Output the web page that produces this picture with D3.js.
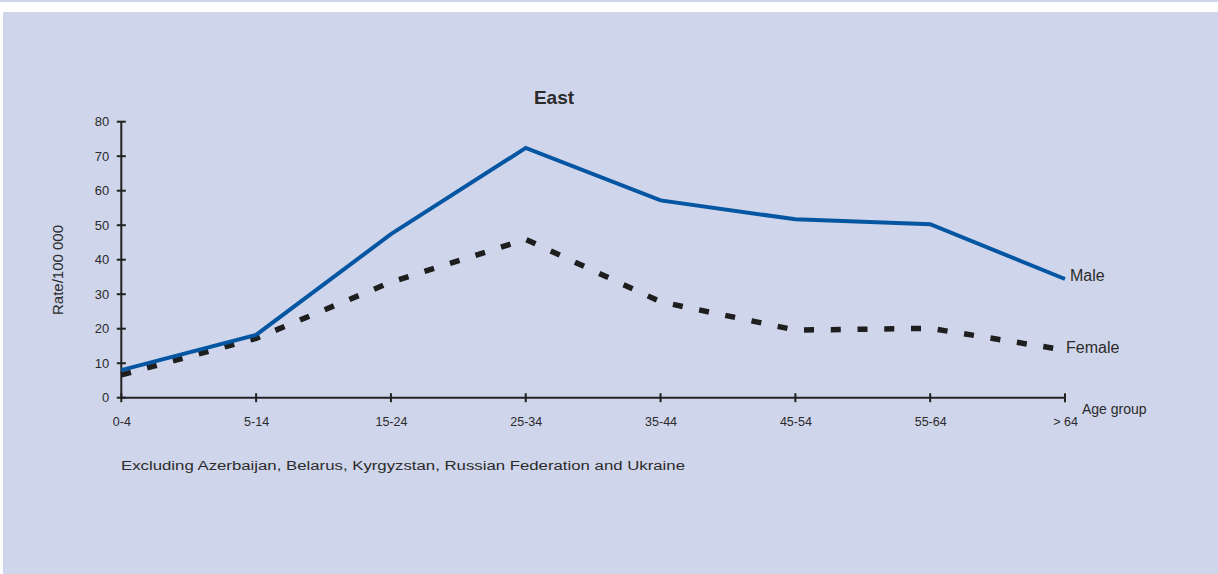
<!DOCTYPE html>
<html><head><meta charset="utf-8">
<script src="https://cdn.jsdelivr.net/npm/d3@7"></script>
<style>
html,body{margin:0;padding:0;background:#fff;}
svg{display:block;}
text{font-family:"Liberation Sans",Arial,sans-serif;fill:#2b2b2b;}
</style></head>
<body>
<svg id="chart" width="1218" height="574"></svg>
<script>
const categories = ["0-4","5-14","15-24","25-34","35-44","45-54","55-64","> 64"];
const maleValues = [8.0, 18.2, 47.4, 72.4, 57.2, 51.7, 50.3, 34.4];
const femaleValues = [6.6, 17.2, 33.5, 45.9, 27.8, 19.6, 20.1, 13.8];
const yTicks = [0,10,20,30,40,50,60,70,80];
const seriesNames = ["Male","Female"];

const svg = d3.select("#chart");
svg.append("rect").attr("x",0).attr("y",0).attr("width",1218).attr("height",2).attr("fill","#cfd5ea");
svg.append("rect").attr("x",3).attr("y",12).attr("width",1215).attr("height",562).attr("fill","#cfd5ea");

const x = d3.scalePoint().domain(categories).range([121.3, 1065]);
const y = d3.scaleLinear().domain([0,80]).range([397.7, 121.7]);

// axes
const yAxis = svg.append("g").attr("transform","translate(121.3,0)")
  .call(d3.axisLeft(y).tickValues(yTicks).tickSize(0).tickPadding(12));
yAxis.select(".domain").remove();
yAxis.selectAll("text").style("font-size","13px").attr("fill","#2b2b2b");
const xAxis = svg.append("g").attr("transform","translate(0,397.7)")
  .call(d3.axisBottom(x).tickSize(0).tickPadding(19));
xAxis.select(".domain").remove();
xAxis.selectAll("text").style("font-size","12.5px").attr("fill","#2b2b2b");

// axis lines
svg.append("line").attr("x1",x(categories[0])).attr("x2",x(categories[categories.length-1]))
  .attr("y1",y(0)).attr("y2",y(0)).attr("stroke","#222").attr("stroke-width",2);
svg.append("line").attr("x1",x(categories[0])).attr("x2",x(categories[0]))
  .attr("y1",y(0)).attr("y2",y(80)).attr("stroke","#222").attr("stroke-width",2);
svg.selectAll(".yt").data(yTicks).enter().append("line")
  .attr("x1",121.3-4.5).attr("x2",121.3+4.5).attr("y1",d=>y(d)).attr("y2",d=>y(d))
  .attr("stroke","#222").attr("stroke-width",2);
svg.selectAll(".xt").data(categories).enter().append("line")
  .attr("x1",d=>x(d)).attr("x2",d=>x(d)).attr("y1",y(0)-4.5).attr("y2",y(0)+4.5)
  .attr("stroke","#222").attr("stroke-width",2);

const line = d3.line().x((d,i)=>x(categories[i])).y(d=>y(d));
const fPath = svg.append("path").datum(femaleValues).attr("d",line).attr("fill","none")
  .attr("stroke","#1e1e1e").attr("stroke-width",5.5);
const L = fPath.node().getTotalLength();
const n = Math.round((L - 22) / 27);
const period = (L - 22) / n;
fPath.attr("stroke-dasharray", `10,${period-10}`);
svg.append("path").datum(maleValues).attr("d",line).attr("fill","none")
  .attr("stroke","#0556a2").attr("stroke-width",4).attr("stroke-linejoin","miter");

// labels
const last = categories.length-1;
svg.append("text").attr("x",x(categories[last])+5).attr("y",y(maleValues[last])+2)
  .style("font-size","16px").text(seriesNames[0]);
svg.append("text").attr("x",x(categories[last])+1).attr("y",y(femaleValues[last])+3)
  .style("font-size","16px").text(seriesNames[1]);

svg.append("text").attr("x",554).attr("y",104).attr("text-anchor","middle")
  .style("font-size","19px").style("font-weight","bold").text("East");
svg.append("text").attr("transform","translate(63,270) rotate(-90)").attr("text-anchor","middle")
  .style("font-size","15px").text("Rate/100 000");
svg.append("text").attr("x",1082).attr("y",414).style("font-size","14px").text("Age group");
svg.append("text").attr("x",121).attr("y",470).style("font-size","12.5px")
  .attr("textLength",564).attr("lengthAdjust","spacingAndGlyphs")
  .text("Excluding Azerbaijan, Belarus, Kyrgyzstan, Russian Federation and Ukraine");
</script>
</body></html>
